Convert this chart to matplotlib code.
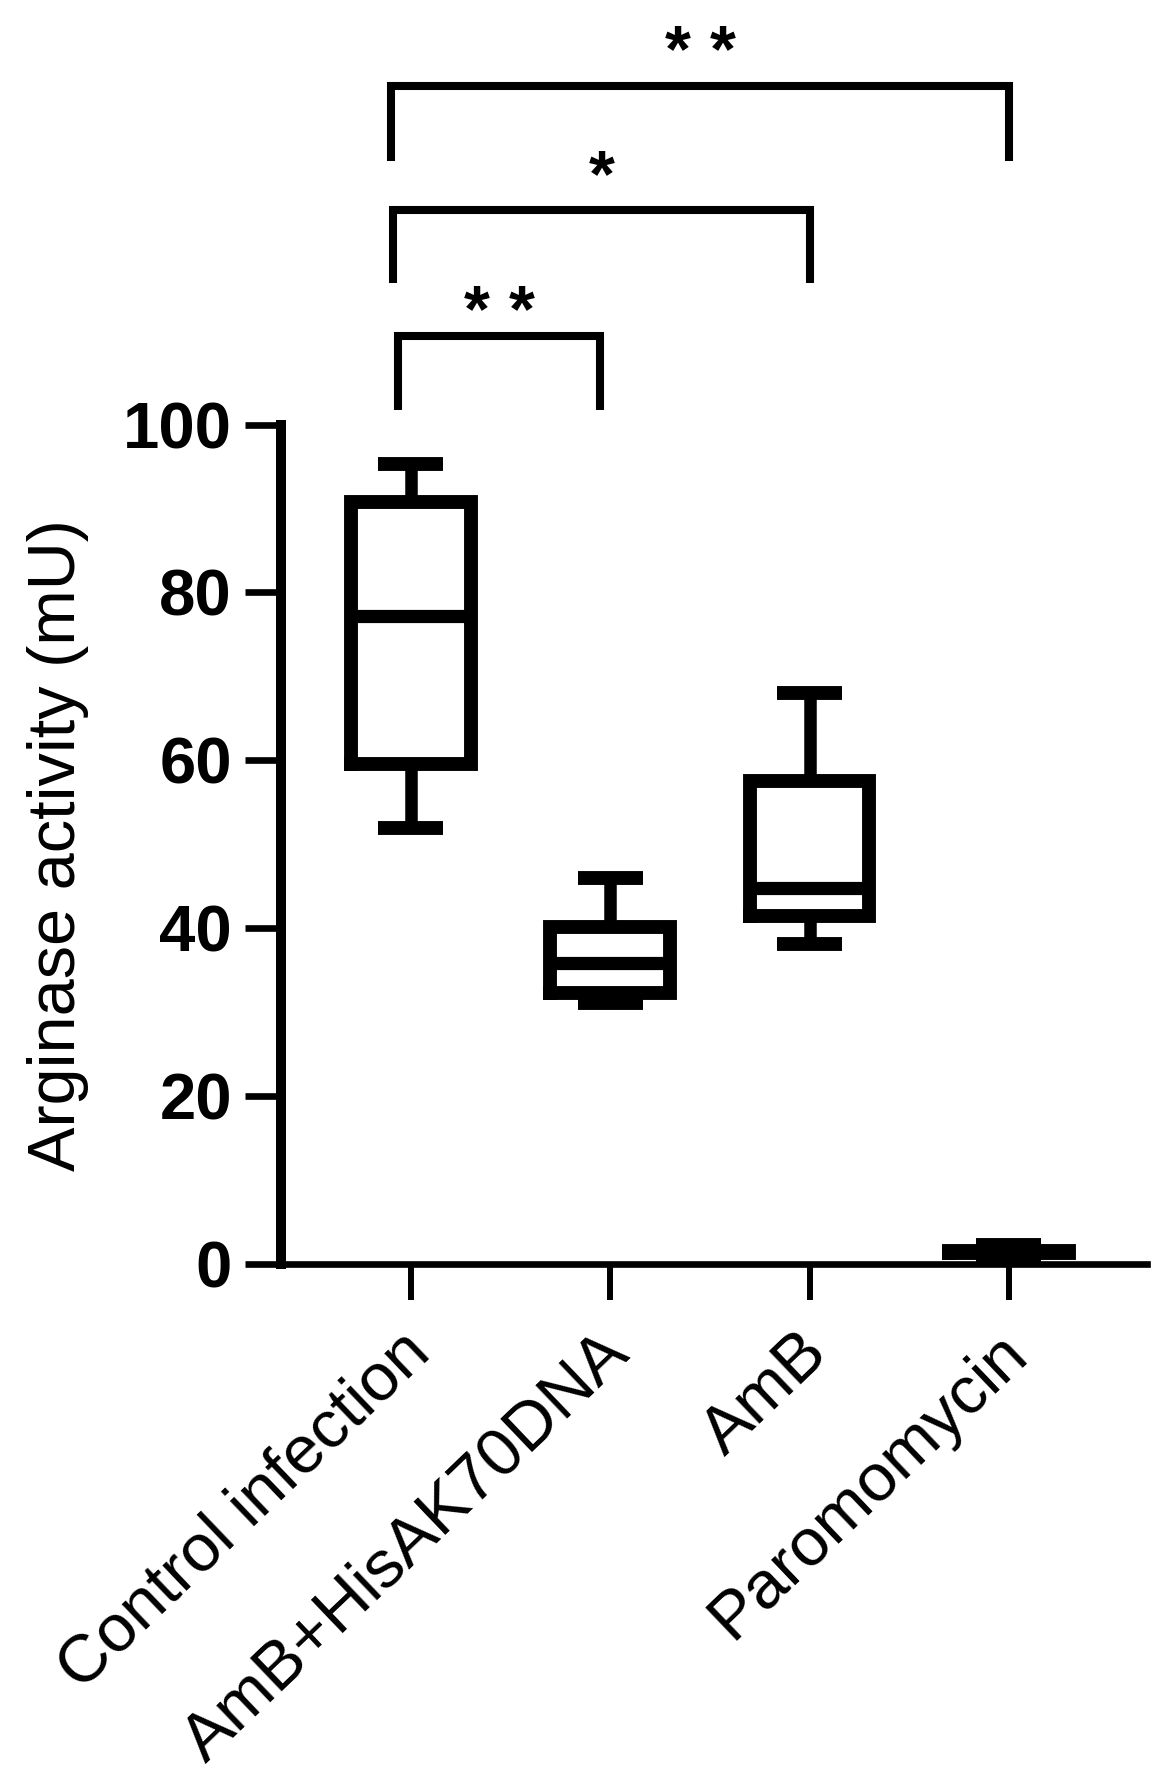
import matplotlib
matplotlib.use("Agg")
import matplotlib.pyplot as plt
from matplotlib.transforms import ScaledTranslation


# Arginase activity per treatment group (box plot summary values, mU)

groups = ["Control infection", "AmB+HisAK70DNA", "AmB", "Paromomycin"]

whisker_low = [51.9, 31.0, 38.1, 0.6]
q1 = [59.5, 32.2, 41.4, 1.3]
median = [77.2, 35.8, 44.7, 1.4]
q3 = [90.8, 40.1, 57.5, 1.5]
whisker_high = [95.3, 45.9, 68.0, 2.2]

y_ticks = [0, 20, 40, 60, 80, 100]

# significance brackets: left group, right group, stars
comparisons = [(0, 1, 2), (0, 2, 1), (0, 3, 2)]
bracket_heights = [110.5, 125.6, 140.4]
bracket_legs = [101.7, 116.9, 131.4]
star_heights = [114.9, 131.0, 145.8]


plt.rcParams["font.family"] = ["Liberation Sans", "DejaVu Sans"]

fig = plt.figure(figsize=(11.69, 17.89), dpi=100)

ax = fig.add_axes([281 / 1169, 1 - 1263.5 / 1789, 865.7 / 1169, 1263.5 / 1789])

stats = []
for i in range(len(groups)):
    stats.append(
        dict(
            med=median[i],
            q1=q1[i],
            q3=q3[i],
            whislo=whisker_low[i],
            whishi=whisker_high[i],
            fliers=[],
        )
    )

ax.bxp(
    stats,
    positions=range(len(groups)),
    widths=0.6,
    capwidths=0.326,
    showfliers=False,
    boxprops=dict(color="black", linewidth=10, solid_joinstyle="miter"),
    whiskerprops=dict(color="black", linewidth=9, solid_capstyle="butt"),
    capprops=dict(color="black", linewidth=10, solid_capstyle="butt"),
    medianprops=dict(color="black", linewidth=9.5, solid_capstyle="butt"),
)


# Significance brackets with stars

left_offsets = [-0.065, -0.09, -0.098]
right_offsets = [-0.05, 0.0, 0.0]
star_size = 48
star_shift = ScaledTranslation(0, -0.47 * star_size / 72, fig.dpi_scale_trans)

for k, (a, b, n_stars) in enumerate(comparisons):
    x_left = a + left_offsets[k]
    x_right = b + right_offsets[k]
    top = bracket_heights[k]
    leg = bracket_legs[k]

    ax.plot(
        [x_left, x_left, x_right, x_right],
        [leg, top, top, leg],
        color="black",
        linewidth=5.8,
        solid_joinstyle="miter",
        solid_capstyle="butt",
        clip_on=False,
    )

    mid = (x_left + x_right) / 2
    if n_stars == 1:
        star_x = [mid]
    else:
        star_x = [mid - 0.113, mid + 0.113]

    for sx in star_x:
        ax.text(
            sx,
            star_heights[k],
            "*",
            fontsize=star_size,
            fontweight="bold",
            ha="center",
            va="baseline",
            transform=ax.transData + star_shift,
            clip_on=False,
        )


# Axes styling

ax.set_xlim(-0.652, 3.691)
ax.set_ylim(0, 150.6)

ax.spines["top"].set_visible(False)
ax.spines["right"].set_visible(False)
ax.spines["left"].set_bounds(0, 100)
ax.spines["left"].set_linewidth(7.2)
ax.spines["bottom"].set_linewidth(4.8)

ax.set_yticks(y_ticks)
ax.set_yticklabels([str(t) for t in y_ticks], fontweight="bold")
ax.tick_params(axis="y", length=26, width=4.8, pad=9.4, labelsize=47)

ax.set_xticks(range(len(groups)))
ax.set_xticklabels(
    groups,
    rotation=43.7,
    ha="right",
    va="top",
    rotation_mode="anchor",
)
ax.tick_params(axis="x", length=26, width=4.3, pad=15.5, labelsize=48.5)

label_shift = ScaledTranslation(-12 / 100, 0, fig.dpi_scale_trans)
for lbl in ax.get_xticklabels():
    lbl.set_transform(lbl.get_transform() + label_shift)

fig.text(
    58 / 1169,
    1 - 845 / 1789,
    "Arginase activity (mU)",
    rotation=90,
    ha="center",
    va="center",
    fontsize=48,
)

fig.savefig("out.png", dpi=100)
